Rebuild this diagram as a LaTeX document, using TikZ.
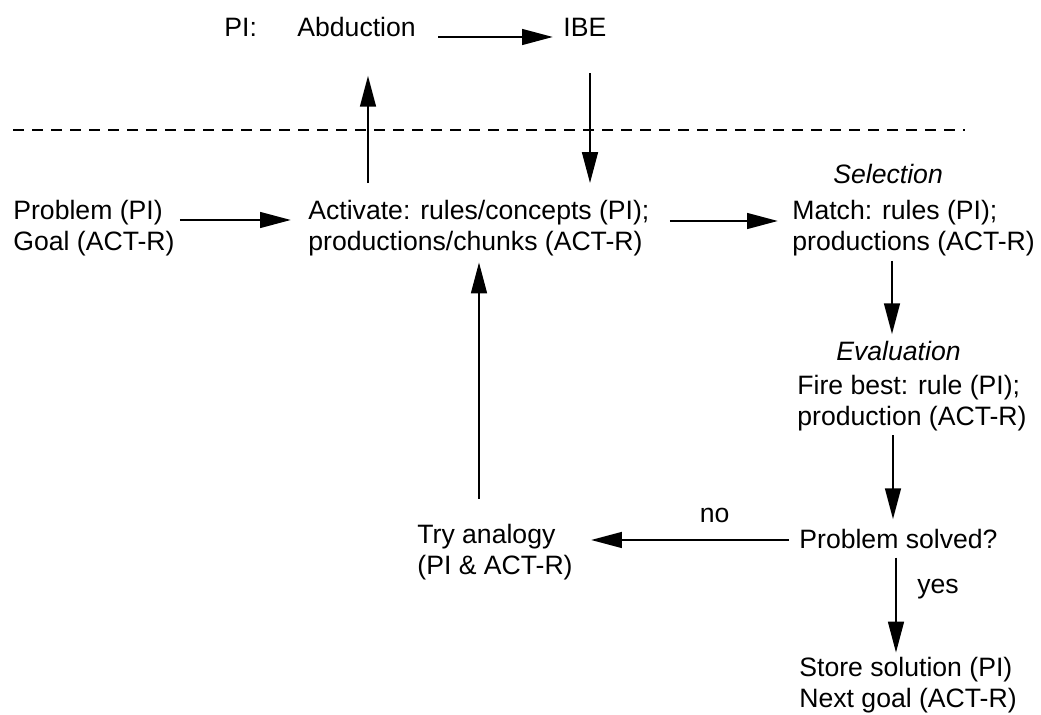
\documentclass[tikz,border=0pt]{standalone}
\usepackage{fontspec}
\setmainfont{Liberation Sans}
\usetikzlibrary{positioning}
\usetikzlibrary{arrows.meta}
\usetikzlibrary{calc}
\tikzset{txtStyle/.style={inner sep=0pt, anchor=west, align=left, font=\fontsize{13.3}{15.5}\selectfont}}
\tikzset{tagStyle/.style={txtStyle, font=\fontsize{13.3}{15.5}\selectfont\itshape}}
\tikzset{lblStyle/.style={inner sep=0pt, font=\fontsize{13.3}{15.5}\selectfont}}
\tikzset{post/.style={-{Triangle[length=15.5pt,width=7.8pt]}, line width=1.35pt}}

\begin{document}
\begin{tikzpicture}[x=0.5pt, y=-0.5pt]
  \useasboundingbox (0,0) rectangle (1041,715);

  % nodes
  \node at (224, 27.5) [txtStyle] (pilab) {PI:};
  \node at (297, 27.5) [txtStyle] (abd) {Abduction};
  \node at (563, 27.5) [txtStyle] (ibe) {IBE};
  \node at (13, 228.5) [txtStyle] (prob) {Problem (PI)\\Goal (ACT-R)};
  \node at (308, 228.5) [txtStyle] (act) {Activate: rules/concepts (PI);\\productions/chunks (ACT-R)};
  \node at (833, 173.5) [tagStyle] (sel) {Selection};
  \node at (792, 228.5) [txtStyle] (match) {Match: rules (PI);\\productions (ACT-R)};
  \node at (836, 350.5) [tagStyle] (eval) {Evaluation};
  \node at (797, 403.5) [txtStyle] (fire) {Fire best: rule (PI);\\production (ACT-R)};
  \node at (799, 538.5) [txtStyle] (solved) {Problem solved?};
  \node at (417, 552.5) [txtStyle] (try) {Try analogy\\(PI \& ACT-R)};
  \node at (799, 685) [txtStyle] (store) {Store solution (PI)\\Next goal (ACT-R)};

  % separator
  \draw [line width=1pt, dash pattern=on 5.5pt off 4pt] (13,130) -- (965,130);

  % lines
  \draw [post] ($(abd.east)+(22,9.5)$) -- ($(ibe.west)+(-10,9.5)$);
  \draw [post] ($(act.north west)+(60,-17)$) -- ($(act.north west |- abd.south)+(60,38)$);
  \draw [post] ($(ibe.south west)+(27,36)$) -- ($(ibe.south west |- act.north)+(27,-17)$);
  \draw [post] ($(prob.east)+(5,-8.5)$) -- ($(act.west)+(-17,-8.5)$);
  \draw [post] ($(act.east)+(20,-7.5)$) -- ($(match.west)+(-14,-7.5)$);
  \draw [post] ($(match.south west)+(100,4)$) -- ($(match.south west |- eval.north)+(100,-6)$);
  \draw [post] ($(fire.south west)+(96,3.5)$) -- ($(fire.south west |- solved.north)+(96,-9)$);
  \draw [post] ($(solved.west)+(-10,1.5)$) -- ($(solved.west -| try.east)+(18,1.5)$)
    node [lblStyle, above=8pt, pos=0.375] (no) {no};
  \draw [post] ($(try.north west)+(62,-25.5)$) -- ($(try.north west |- act.south)+(62,5.5)$);
  \draw [post] ($(solved.south west)+(97,9)$) -- ($(solved.south west |- store.north)+(97,-4)$)
    node [lblStyle, right=10pt, pos=0.33] (yes) {yes};
\end{tikzpicture}
\end{document}
